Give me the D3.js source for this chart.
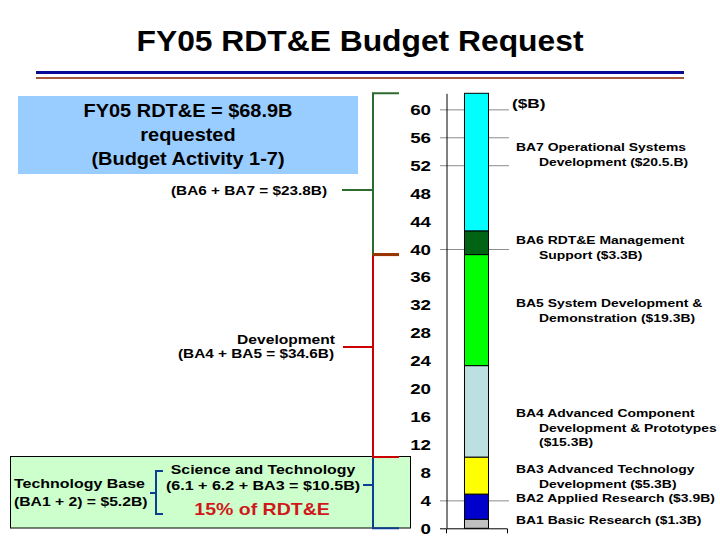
<!DOCTYPE html>
<html lang="en">
<head>
  <meta charset="UTF-8">
  <title>FY05 RDT&amp;E Budget Request</title>
  <style>
    body { margin: 0; background: #fff; }
    svg text { font-family: "Liberation Sans", Arial, sans-serif; }
  </style>
</head>
<body>
  <svg id="chart" width="720" height="540"></svg>
  <script src="https://cdn.jsdelivr.net/npm/d3@7"></script>
  <script>

  // budget activities, bottom to top, as drawn in the bar ($B)
  const categories = ["BA1", "BA2", "BA3", "BA4", "BA5", "BA6", "BA7"];
  const values = [1.3, 3.6, 5.3, 13.1, 15.9, 3.4, 19.7];
  const colors = ["#c0c0c0", "#0000cc", "#ffff00", "#bcdfe2", "#00ff00", "#006414", "#00ffff"];

  const yTickLabels = [0, 4, 8, 12, 16, 20, 24, 28, 32, 36, 40, 44, 48, 52, 56, 60];
  const gridValues = [4, 40, 52, 56, 60];

  // label text for each segment (first line at left, others indented)
  const segmentLabels = [
    ["BA1 Basic Research ($1.3B)"],
    ["BA2 Applied Research ($3.9B)"],
    ["BA3 Advanced Technology", "Development ($5.3B)"],
    ["BA4 Advanced Component", "Development & Prototypes", "($15.3B)"],
    ["BA5 System Development &", "Demonstration ($19.3B)"],
    ["BA6 RDT&E Management", "Support ($3.3B)"],
    ["BA7 Operational Systems", "Development ($20.5.B)"]
  ];
  const labelBaseline = [524, 502, 473, 417, 307, 244, 151];

  // groups bracketed at the left of the axis: [first index, last index]
  const groups = [
    { from: 0, to: 2, color: "#0d3f8f" },
    { from: 3, to: 4, color: "#cc0000" },
    { from: 5, to: 6, color: "#2e6b2e" }
  ];

  const svg = d3.select("#chart");

  // stacking
  let acc = 0;
  const stacked = values.map((v, i) => {
    const d = { cat: categories[i], y0: acc, y1: acc + v, color: colors[i] };
    acc += v;
    return d;
  });

  const y = d3.scaleLinear().domain([0, acc]).range([528.3, 93.3]);
  const x = d3.scaleBand().domain(["FY05"]).range([446, 507]).padding(0.435);

  function txt(g, px, py, str, o) {
    return g.append("text")
      .attr("transform", `translate(${px},${py}) scale(${o.sx || 1},1)`)
      .attr("text-anchor", o.anchor || "start")
      .style("font-size", o.size + "px")
      .style("font-weight", o.bold ? "bold" : "normal")
      .attr("fill", o.color || "#000")
      .text(str);
  }

  // title + rules
  txt(svg, 360, 51, "FY05 RDT&E Budget Request", { size: 30, bold: true, anchor: "middle", sx: 1.06 });
  svg.append("line").attr("x1", 36).attr("x2", 684).attr("y1", 72.5).attr("y2", 72.5)
    .attr("stroke", "#0a0a9a").attr("stroke-width", 3);
  svg.append("line").attr("x1", 36).attr("x2", 684).attr("y1", 78).attr("y2", 78)
    .attr("stroke", "#a8583a").attr("stroke-width", 2);

  // boxes
  svg.append("rect").attr("x", 18).attr("y", 96).attr("width", 340).attr("height", 78).attr("fill", "#99ccff");
  ["FY05 RDT&E = $68.9B", "requested", "(Budget Activity 1-7)"].forEach((s, i) => {
    txt(svg, 188, 117 + i * 24, s, { size: 19, bold: true, anchor: "middle", sx: 1.05 });
  });

  svg.append("rect").attr("x", 10.5).attr("y", 456.5).attr("width", 400).attr("height", 71.5)
    .attr("fill", "#ccffcc").attr("stroke", "#000").attr("stroke-width", 1);

  // gridlines
  svg.append("g").selectAll("line").data(gridValues).join("line")
    .attr("x1", 440).attr("x2", 509)
    .attr("y1", d => y(d) + 0.5).attr("y2", d => y(d) + 0.5)
    .attr("stroke", "#8c8c8c").attr("stroke-width", 1);

  // stacked bar
  svg.append("g").selectAll("rect").data(stacked).join("rect")
    .attr("x", x("FY05"))
    .attr("width", x.bandwidth())
    .attr("y", d => y(d.y1))
    .attr("height", d => y(d.y0) - y(d.y1))
    .attr("fill", d => d.color)
    .attr("stroke", "#000").attr("stroke-width", 1);

  // axes
  const yAxis = svg.append("g").attr("transform", "translate(446.5,0)")
    .call(d3.axisLeft(y).tickValues([]).tickSizeOuter(0));
  yAxis.select(".domain").attr("stroke", "#000");
  const xAxis = svg.append("g").attr("transform", `translate(0,${y(0)})`)
    .call(d3.axisBottom(x).tickSizeInner(0).tickSizeOuter(5).tickFormat(""));
  xAxis.select(".domain").attr("stroke", "#000");
  svg.append("line").attr("x1", 440).attr("x2", 446).attr("y1", y(0) + 0.5).attr("y2", y(0) + 0.5).attr("stroke", "#000");

  const tickG = svg.append("g");
  yTickLabels.forEach(v => {
    txt(tickG, 431, y(v) + 5.5, String(v), { size: 15, bold: true, anchor: "end", sx: 1.25 });
  });

  // segment labels
  txt(svg, 512, 108, "($B)", { size: 13, bold: true, sx: 1.33 });
  segmentLabels.forEach((lines, i) => {
    lines.forEach((s, j) => {
      txt(svg, j === 0 ? 516 : 539, labelBaseline[i] + j * 14.5, s, { size: 11, bold: true, sx: 1.265 });
    });
  });

  // brackets
  const bx = 373, tipX = 399;
  const bg = svg.append("g").attr("fill", "none").attr("stroke-width", 2);
  groups.forEach(gp => {
    const top = y(stacked[gp.to].y1), bot = y(stacked[gp.from].y0);
    bg.append("path")
      .attr("d", `M${tipX},${top}H${bx}V${bot}H${tipX}`)
      .attr("stroke", gp.color);
  });
  // brown cap between development and management groups
  bg.append("line").attr("x1", bx).attr("x2", tipX)
    .attr("y1", y(stacked[5].y0)).attr("y2", y(stacked[5].y0))
    .attr("stroke", "#993300").attr("stroke-width", 3);
  // the tie-in ticks
  bg.append("line").attr("x1", 342).attr("x2", bx).attr("y1", 190).attr("y2", 190).attr("stroke", groups[2].color);
  bg.append("line").attr("x1", 343).attr("x2", bx).attr("y1", 347).attr("y2", 347).attr("stroke", groups[1].color);
  bg.append("line").attr("x1", 363).attr("x2", bx).attr("y1", 485).attr("y2", 485).attr("stroke", groups[0].color);
  // small technology base bracket
  bg.append("path").attr("d", "M163,471H156V514H163").attr("stroke", groups[0].color);
  bg.append("line").attr("x1", 150).attr("x2", 156).attr("y1", 493).attr("y2", 493).attr("stroke", groups[0].color);

  // left annotations
  txt(svg, 327, 195, "(BA6 + BA7 = $23.8B)", { size: 12, bold: true, sx: 1.28, anchor: "end" });
  txt(svg, 335, 344, "Development", { size: 12, bold: true, sx: 1.3, anchor: "end" });
  txt(svg, 334, 358, "(BA4 + BA5 = $34.6B)", { size: 12, bold: true, sx: 1.28, anchor: "end" });

  txt(svg, 14, 488, "Technology Base", { size: 12, bold: true, sx: 1.33 });
  txt(svg, 14, 506, "(BA1 + 2) = $5.2B)", { size: 12, bold: true, sx: 1.31 });
  txt(svg, 263, 474, "Science and Technology", { size: 12, bold: true, sx: 1.32, anchor: "middle" });
  txt(svg, 263, 490, "(6.1 + 6.2 + BA3 = $10.5B)", { size: 12, bold: true, sx: 1.34, anchor: "middle" });
  txt(svg, 262, 515, "15% of RDT&E", { size: 16, bold: true, sx: 1.22, anchor: "middle", color: "#d0181c" });

  </script>
</body>
</html>
